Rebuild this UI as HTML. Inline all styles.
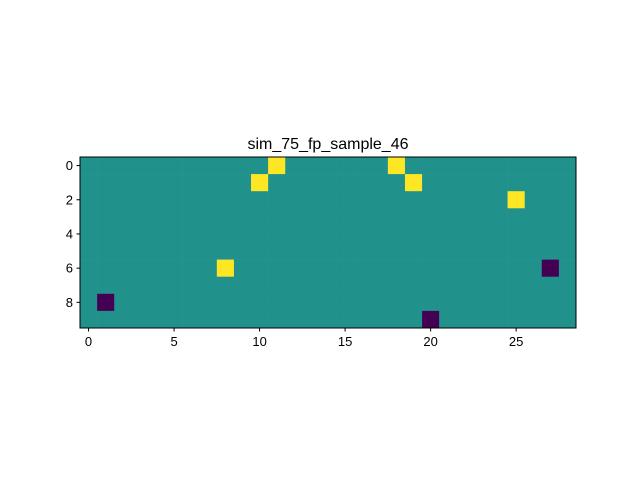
<!DOCTYPE html>
<html><head><meta charset="utf-8"><style>
body{margin:0;background:#fff;}
svg text{font-family:"Liberation Sans","DejaVu Sans",sans-serif;}
</style></head><body>
<svg id="chart" width="640" height="480" xmlns="http://www.w3.org/2000/svg">
<rect width="640" height="480" fill="#fff"/>
<text x="328" y="149" font-size="16" text-anchor="middle">sim_75_fp_sample_46</text>
<g id="cells"></g>
<g id="axes"></g>
</svg>
<script>
const nCols = 29;
const nRows = 10;
const highRows = [0, 0, 1, 1, 2, 6];
const highCols = [11, 18, 10, 19, 25, 8];
const lowRows = [6, 8, 9];
const lowCols = [27, 1, 20];
const xTicks = [0, 5, 10, 15, 20, 25];
const yTicks = [0, 2, 4, 6, 8];

const L = 80, R = 576, T = 157, B = 328;
const cw = (R - L) / nCols, ch = (B - T) / nRows;
const xPos = c => L + (c + 0.5) * cw;
const yPos = r => T + (r + 0.5) * ch;
const NS = "http://www.w3.org/2000/svg";
const cells = document.getElementById('cells');
const axes = document.getElementById('axes');
function mk(tag, attrs, parent) {
  const e = document.createElementNS(NS, tag);
  for (const k in attrs) e.setAttribute(k, attrs[k]);
  parent.appendChild(e);
  return e;
}
const grid = [];
for (let r = 0; r < nRows; r++) { grid.push(new Array(nCols).fill(0)); }
highRows.forEach((r, i) => { grid[r][highCols[i]] = 1; });
lowRows.forEach((r, i) => { grid[r][lowCols[i]] = -1; });
const colors = { "-1": "#440154", "0": "#21918c", "1": "#fde725" };
for (let r = 0; r < nRows; r++) for (let c = 0; c < nCols; c++) {
  const e = mk('rect', { x: xPos(c) - cw / 2, y: yPos(r) - ch / 2, width: cw + 0.3, height: ch + 0.3, fill: colors[grid[r][c]] }, cells);
  
  
}
const frame = mk('rect', { x: L, y: T, width: R - L, height: B - T, fill: 'none', stroke: '#000', 'stroke-width': 1 }, axes);


xTicks.forEach(t => {
  const x = xPos(t);
  mk('line', { x1: x, x2: x, y1: B, y2: B + 3.5, stroke: '#000' }, axes);
  const tx = mk('text', { x: x, y: B + 18, 'font-size': 13, 'text-anchor': 'middle' }, axes);
  tx.textContent = t;
  
  
});
yTicks.forEach(t => {
  const y = yPos(t);
  mk('line', { x1: L, x2: L - 3.5, y1: y, y2: y, stroke: '#000' }, axes);
  const tx = mk('text', { x: L - 7, y: y + 4.5, 'font-size': 13, 'text-anchor': 'end' }, axes);
  tx.textContent = t;
  
  
});
</script>
</body></html>
